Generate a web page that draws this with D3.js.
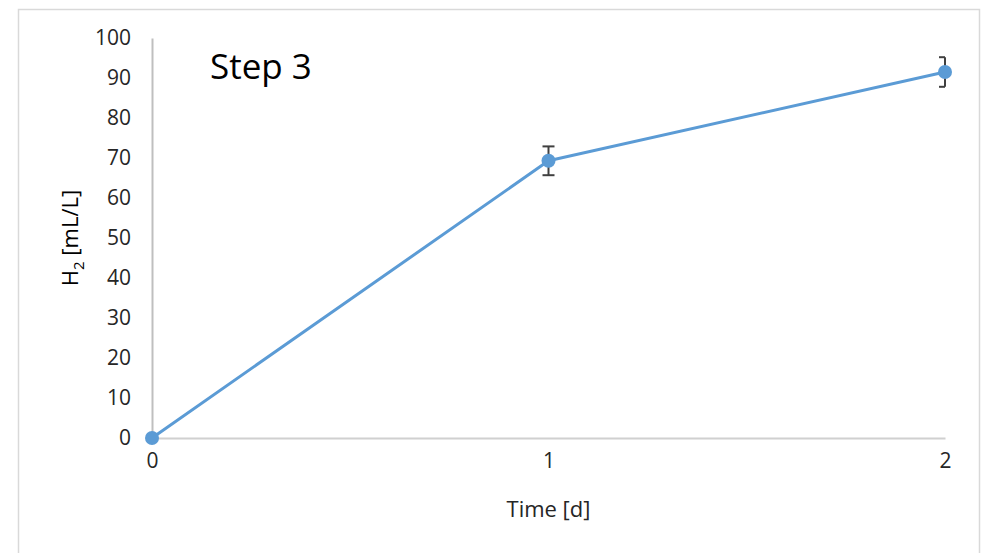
<!DOCTYPE html>
<html>
<head>
<meta charset="utf-8">
<script src="https://cdn.jsdelivr.net/npm/d3@7"></script>
<style>
  html, body { margin: 0; padding: 0; background: #fff; }
  svg { display: block; font-family: "Open Sans", "DejaVu Sans", sans-serif; }
</style>
</head>
<body>
<svg id="chart" width="984" height="553"></svg>
<script>
// Hydrogen production, step 3
const days = [0, 1, 2];
const h2 = [0, 69.3, 91.5];
const h2Err = [0, 3.6, 3.7];
const yTicks = [0, 10, 20, 30, 40, 50, 60, 70, 80, 90, 100];
const xTicks = [0, 1, 2];

const svg = d3.select("#chart");
const plot = { left: 152, right: 945, top: 38, bottom: 438 };

// outer frame
svg.append("rect")
  .attr("x", 18.5).attr("y", 9.5)
  .attr("width", 961).attr("height", 560)
  .attr("fill", "#fff").attr("stroke", "#d9d9d9").attr("stroke-width", 1.5);

const x = d3.scaleLinear().domain([0, 2]).range([plot.left, plot.right]);
const y = d3.scaleLinear().domain([0, 100]).range([plot.bottom, plot.top]);

// y axis
const yAxis = svg.append("g")
  .attr("transform", `translate(${plot.left},0)`)
  .call(d3.axisLeft(y).tickValues(yTicks).tickSize(0).tickPadding(21));
yAxis.select(".domain").attr("stroke", "#bfbfbf").attr("stroke-width", 2);
yAxis.selectAll("text").attr("font-size", 21).attr("fill", "#262626")
  .attr("font-family", "\"Open Sans\", sans-serif");

// x axis
const xAxis = svg.append("g")
  .attr("transform", `translate(0,${plot.bottom})`)
  .call(d3.axisBottom(x).tickValues(xTicks).tickFormat(d3.format("d")).tickSize(0).tickPadding(15));
xAxis.select(".domain").attr("stroke", "#d0d0d0").attr("stroke-width", 2);
xAxis.selectAll("text").attr("font-size", 21).attr("fill", "#262626")
  .attr("font-family", "\"Open Sans\", sans-serif");

const pts = days.map((d, i) => ({ d, v: h2[i], e: h2Err[i] }));

// series line
svg.append("path")
  .datum(pts)
  .attr("fill", "none")
  .attr("stroke", "#5b9bd5")
  .attr("stroke-width", 3)
  .attr("stroke-linejoin", "round")
  .attr("d", d3.line().x(p => x(p.d)).y(p => y(p.v)));

// error bars
const capW = 6;
const eb = svg.append("g").attr("stroke", "#404040").attr("stroke-width", 2).attr("fill", "none");
pts.filter(p => p.e > 0).forEach(p => {
  const cx = x(p.d);
  const isEdge = p.d === 2;
  const left = cx - capW, right = isEdge ? cx : cx + capW;
  eb.append("line").attr("x1", cx).attr("x2", cx).attr("y1", y(p.v + p.e)).attr("y2", y(p.v - p.e));
  eb.append("line").attr("x1", left).attr("x2", right).attr("y1", y(p.v + p.e)).attr("y2", y(p.v + p.e));
  eb.append("line").attr("x1", left).attr("x2", right).attr("y1", y(p.v - p.e)).attr("y2", y(p.v - p.e));
});

// markers
svg.append("g").selectAll("circle")
  .data(pts)
  .join("circle")
  .attr("cx", p => x(p.d))
  .attr("cy", p => y(p.v))
  .attr("r", 7)
  .attr("fill", "#5b9bd5");

// titles
svg.append("text")
  .attr("x", 210).attr("y", 79)
  .attr("font-size", 35).attr("fill", "#000")
  .text("Step 3");

svg.append("text")
  .attr("x", (plot.left + plot.right) / 2).attr("y", 517)
  .attr("text-anchor", "middle")
  .attr("font-size", 22).attr("fill", "#262626")
  .text("Time [d]");

const yl = svg.append("text")
  .attr("transform", `translate(78,${(plot.top + plot.bottom) / 2}) rotate(-90)`)
  .attr("text-anchor", "middle")
  .attr("font-size", 22).attr("fill", "#000");
yl.append("tspan").text("H");
yl.append("tspan").attr("font-size", 15).attr("dy", 6).text("2");
yl.append("tspan").attr("dy", -6).text(" [mL/L]");
</script>
</body>
</html>
